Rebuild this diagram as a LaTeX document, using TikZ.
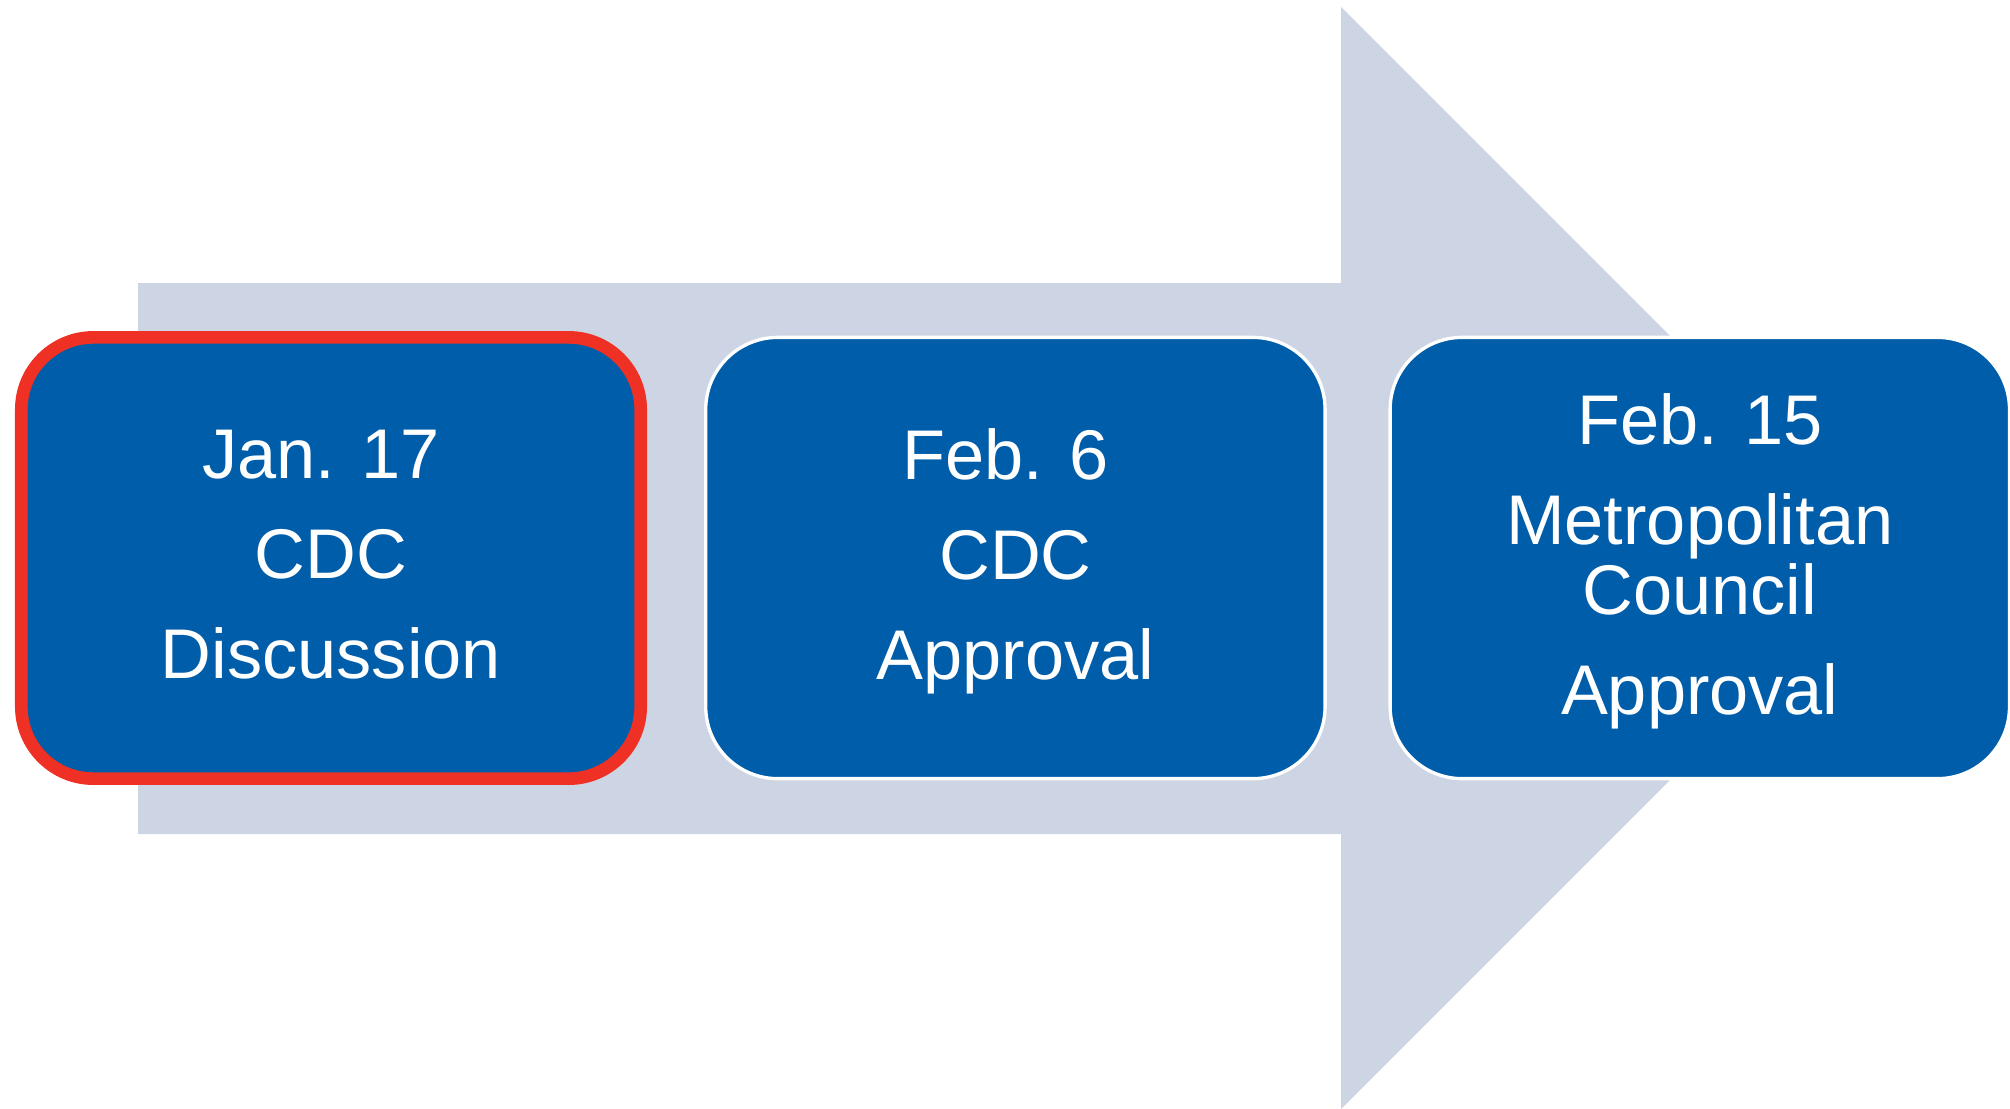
\documentclass[tikz,border=0pt]{standalone}
\usepackage{fontspec}
\setmainfont{Liberation Sans}
\usetikzlibrary{positioning}
\definecolor{stageblue}{HTML}{005DAA}
\definecolor{arrowgray}{HTML}{CDD4E3}
\definecolor{markred}{HTML}{EE3124}

\begin{document}
\begin{tikzpicture}[x=0.01cm, y=-0.01cm,
    stage/.style={rectangle, rounded corners=0.72cm, fill=stageblue, draw=white, line width=0.95pt,
      minimum width=6.19cm, minimum height=4.41cm, inner sep=0pt, outer sep=0pt,
      text=white, align=center, text depth=0.08cm, font=\fontsize{20}{19.9}\selectfont},
    current/.style={draw=markred, line width=3.6pt},
    node distance=0.65cm]
    \useasboundingbox (0,0) rectangle (2010,1108);

    \fill[arrowgray] (138,283) -- (1341,283) -- (1341,7) -- (1892,558) -- (1341,1109) -- (1341,834) -- (138,834) -- cycle; % timeline arrow

    \node[stage, current] (jan17) at (331,558) {Jan. 17\phantom{\ }\\[0.3cm] CDC\\[0.3cm] Discussion};
    \node[stage, right=of jan17] (feb6) {Feb. 6\phantom{\ }\\[0.3cm] CDC\\[0.3cm] Approval};
    \node[stage, right=of feb6] (feb15) {Feb. 15\\[0.3cm] Metropolitan\\ Council\\[0.3cm] Approval};
\end{tikzpicture}
\end{document}
